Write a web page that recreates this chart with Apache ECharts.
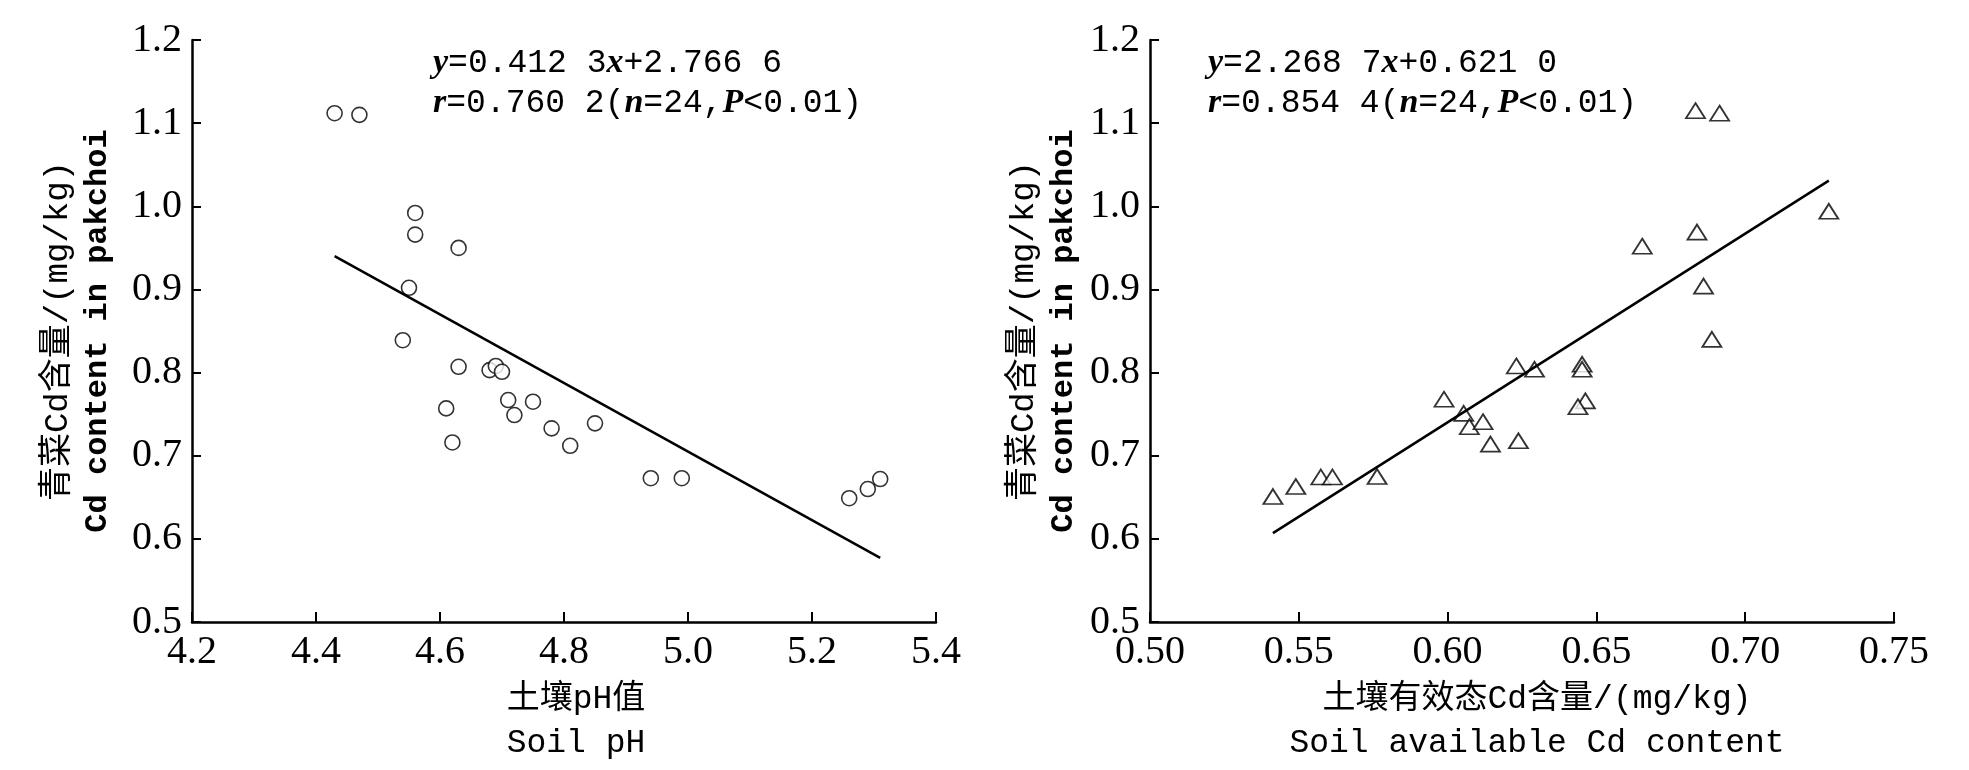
<!DOCTYPE html>
<html>
<head>
<meta charset="utf-8">
<script src="https://cdn.jsdelivr.net/npm/echarts@6/dist/echarts.min.js"></script>
<style>
  html, body { margin: 0; padding: 0; background: #fff; }
  #chart { width: 1969px; height: 770px; }
</style>
</head>
<body>
<div id="chart"></div>
<script>
// Left panel: soil pH vs Cd content in pakchoi
var phX = [4.43, 4.47, 4.56, 4.56, 4.63, 4.55, 4.54, 4.63, 4.68, 4.69, 4.70, 4.71,
           4.75, 4.61, 4.72, 4.78, 4.85, 4.62, 4.81, 4.94, 4.99, 5.26, 5.29, 5.31];
var phY = [1.112, 1.110, 0.992, 0.966, 0.950, 0.902, 0.839, 0.807, 0.803, 0.808, 0.801, 0.767,
           0.765, 0.757, 0.749, 0.733, 0.739, 0.716, 0.712, 0.673, 0.673, 0.649, 0.660, 0.672];
var phFit = { slope: -0.4123, intercept: 2.7666 };

// Right panel: soil available Cd vs Cd content in pakchoi
var cdX = [0.5413, 0.5490, 0.5574, 0.5613, 0.5763, 0.5988, 0.6054, 0.6073, 0.6119, 0.6144, 0.6238, 0.6231,
           0.6292, 0.6452, 0.6452, 0.6463, 0.6438, 0.6833, 0.6914, 0.7281, 0.6838, 0.6654, 0.6860, 0.6888];
var cdY = [0.651, 0.663, 0.6745, 0.6745, 0.675, 0.768, 0.751, 0.735, 0.741, 0.714, 0.718, 0.808,
           0.804, 0.810, 0.804, 0.766, 0.759, 1.115, 1.112, 0.994, 0.969, 0.952, 0.904, 0.840];
var cdFit = { slope: 2.2687, intercept: -0.6210 };

var yTicks = { min: 0.5, max: 1.2, step: 0.1 };
var phTicks = { min: 4.2, max: 5.4, step: 0.2 };
var cdTicks = { min: 0.50, max: 0.75, step: 0.05 };

function pairs(xs, ys) {
  return xs.map(function (x, i) { return [x, ys[i]]; });
}
function fitLine(xs, fit) {
  var lo = Math.min.apply(null, xs), hi = Math.max.apply(null, xs);
  return [[lo, fit.slope * lo + fit.intercept], [hi, fit.slope * hi + fit.intercept]];
}

var MONO = "'Liberation Mono', 'Noto Sans CJK SC', monospace";
var SERIF = "'Liberation Serif', serif";

function xAxisOf(idx, t, digits, nameText, padLeft) {
  return {
    type: 'value', gridIndex: idx,
    min: t.min, max: t.max, interval: t.step,
    axisLine: { lineStyle: { color: '#000', width: 2.5 } },
    axisTick: { inside: true, length: 10, lineStyle: { color: '#000', width: 2 } },
    splitLine: { show: false },
    axisLabel: {
      color: '#000', fontFamily: SERIF, fontSize: 40, margin: 10,
      formatter: function (v) { return v.toFixed(digits); }
    },
    name: nameText, nameLocation: 'middle', nameGap: 46,
    nameTextStyle: { color: '#000', fontFamily: MONO, fontSize: 33, lineHeight: 44,
                     padding: [0, 0, 0, padLeft] }
  };
}
function yAxisOf(idx, gap) {
  return {
    type: 'value', gridIndex: idx,
    min: yTicks.min, max: yTicks.max, interval: yTicks.step,
    axisLine: { show: true, lineStyle: { color: '#000', width: 2.5 } },
    axisTick: { show: true, inside: true, length: 9, lineStyle: { color: '#000', width: 2 } },
    splitLine: { show: false },
    axisLabel: {
      color: '#000', fontFamily: SERIF, fontSize: 40, margin: 10,
      formatter: function (v) { return v.toFixed(1); }
    },
    name: '{a|青菜Cd含量/(mg/kg)}\n{b|Cd content in pakchoi}',
    nameLocation: 'middle', nameRotate: 90, nameGap: gap,
    nameTextStyle: {
      color: '#000', lineHeight: 40,
      rich: {
        a: { fontFamily: MONO, fontSize: 34, lineHeight: 40, color: '#000' },
        b: { fontFamily: MONO, fontSize: 32, lineHeight: 40, color: '#000', fontWeight: 'bold' }
      }
    }
  };
}

function eqText(left, top, line1, line2) {
  return {
    type: 'text', left: left, top: top,
    style: {
      text: line1 + '\n' + line2,
      fontFamily: MONO, fontSize: 33, lineHeight: 40, fill: '#000',
      rich: {
        t: { fontFamily: MONO, fontSize: 33, lineHeight: 40, color: '#000' },
        i: { fontFamily: SERIF, fontStyle: 'italic', fontWeight: 'bold', fontSize: 34, lineHeight: 40, color: '#000' }
      }
    }
  };
}

var myChart = echarts.init(document.getElementById('chart'), null, { renderer: 'canvas' });

var option = {
  animation: false,
  backgroundColor: '#fff',
  grid: [
    { left: 192, right: 1033, top: 40, bottom: 134 },
    { left: 1150, right: 75, top: 40, bottom: 134 }
  ],
  xAxis: [
    xAxisOf(0, phTicks, 1, '土壤pH值\nSoil pH', 24),
    xAxisOf(1, cdTicks, 2, '土壤有效态Cd含量/(mg/kg)\nSoil available Cd content', 30)
  ],
  yAxis: [yAxisOf(0, 74), yAxisOf(1, 66)],
  graphic: [
    eqText(433, 43, '{i|y}{t|=0.412 3}{i|x}{t|+2.766 6}', '{i|r}{t|=0.760 2(}{i|n}{t|=24,}{i|P}{t|<0.01)}'),
    eqText(1208, 43, '{i|y}{t|=2.268 7}{i|x}{t|+0.621 0}', '{i|r}{t|=0.854 4(}{i|n}{t|=24,}{i|P}{t|<0.01)}')
  ],
  series: [
    {
      type: 'line', xAxisIndex: 0, yAxisIndex: 0,
      data: fitLine(phX, phFit), symbol: 'none',
      lineStyle: { color: '#000', width: 2.5 }
    },
    {
      type: 'scatter', xAxisIndex: 0, yAxisIndex: 0,
      data: pairs(phX, phY), symbol: 'circle', symbolSize: 15,
      itemStyle: { color: '#fff', borderColor: '#000', borderWidth: 1.6 }
    },
    {
      type: 'line', xAxisIndex: 1, yAxisIndex: 1,
      data: fitLine(cdX, cdFit), symbol: 'none',
      lineStyle: { color: '#000', width: 2.5 }
    },
    {
      type: 'scatter', xAxisIndex: 1, yAxisIndex: 1,
      data: pairs(cdX, cdY), symbol: 'triangle', symbolSize: [19, 15],
      itemStyle: { color: '#fff', borderColor: '#000', borderWidth: 1.8 }
    }
  ]
};

myChart.setOption(option);
</script>
</body>
</html>
